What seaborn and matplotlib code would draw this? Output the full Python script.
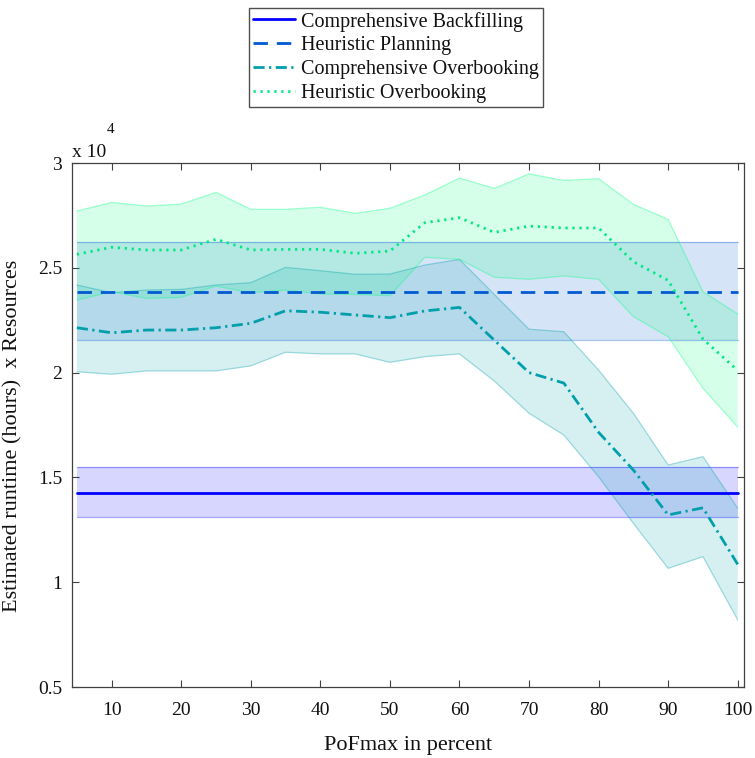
import numpy as np
import pandas as pd
import matplotlib
matplotlib.use("Agg")
import matplotlib.pyplot as plt
from matplotlib.ticker import FuncFormatter, MultipleLocator
import seaborn as sns

# PoFmax levels (percent)
pofmax = [5, 10, 15, 20, 25, 30, 35, 40, 45, 50,
          55, 60, 65, 70, 75, 80, 85, 90, 95, 100]

# Comprehensive Backfilling (independent of PoFmax): mean and spread
backfill_mean = 14240
backfill_lo = 13110
backfill_hi = 15500

# Heuristic Planning (independent of PoFmax): mean and spread
planning_mean = 23850
planning_lo = 21550
planning_hi = 26220

# Comprehensive Overbooking
co_mean = [22140, 21900, 22030, 22030, 22140, 22350, 22950, 22880, 22750, 22620,
           22940, 23110, 21550, 20000, 19500, 17150, 15350, 13210, 13550, 10850]
co_lo = [20040, 19920, 20080, 20080, 20080, 20320, 20970, 20890, 20890, 20490,
         20760, 20890, 19600, 18060, 17020, 15030, 12810, 10660, 11220, 8200]
co_hi = [24180, 23810, 23940, 23970, 24180, 24290, 25020, 24860, 24690, 24700,
         25130, 25400, 23730, 22070, 21950, 20120, 18060, 15590, 15990, 13530]

# Heuristic Overbooking
ho_mean = [25640, 25980, 25850, 25850, 26360, 25850, 25880, 25880, 25690, 25800,
           27150, 27390, 26690, 26990, 26900, 26900, 25290, 24400, 21600, 20100]
ho_lo = [23460, 23860, 23540, 23590, 24130, 23810, 23940, 23750, 23730, 23670,
         25500, 25400, 24550, 24450, 24610, 24450, 22670, 21710, 19250, 17400]
ho_hi = [27710, 28120, 27950, 28040, 28600, 27790, 27790, 27890, 27600, 27840,
         28470, 29280, 28790, 29480, 29170, 29250, 28030, 27310, 23860, 22800]

labels = ["Comprehensive Backfilling", "Heuristic Planning",
          "Comprehensive Overbooking", "Heuristic Overbooking"]
colors = ["#0000FF", "#005AD2", "#00A0AA", "#00E882"]
fills = ["#0000FF", "#005AD2", "#00A0AA", "#00FF80"]

n = len(pofmax)
df = pd.DataFrame({
    "pofmax": pofmax,
    "backfill": [backfill_mean] * n,
    "backfill_lo": [backfill_lo] * n,
    "backfill_hi": [backfill_hi] * n,
    "planning": [planning_mean] * n,
    "planning_lo": [planning_lo] * n,
    "planning_hi": [planning_hi] * n,
    "co": co_mean, "co_lo": co_lo, "co_hi": co_hi,
    "ho": ho_mean, "ho_lo": ho_lo, "ho_hi": ho_hi,
})

sns.set_theme(style="white")
plt.rcParams["font.family"] = ["Liberation Serif", "DejaVu Serif"]

fig = plt.figure(figsize=(7.55, 7.58), dpi=100)
ax = fig.add_axes([72 / 755, 71 / 758, 672 / 755, 524 / 758])

series = [
    ("backfill", None, 2.0),
    ("planning", (5.2, 3.2), 2.0),
    ("co", (4.0, 1.6, 0.8, 1.6), 2.0),
    ("ho", (0.8, 1.7), 2.0),
]

handles = []
for (key, dash, lw), lab, col, fcol in zip(series, labels, colors, fills):
    ax.fill_between(df["pofmax"], df[key + "_lo"], df[key + "_hi"],
                    facecolor=fcol, alpha=0.16, edgecolor="none", zorder=1)
    ax.plot(df["pofmax"], df[key + "_lo"], color=fcol, alpha=0.35, lw=0.9, zorder=1.5)
    ax.plot(df["pofmax"], df[key + "_hi"], color=fcol, alpha=0.35, lw=0.9, zorder=1.5)
    sns.lineplot(data=df, x="pofmax", y=key, ax=ax, color=col, linewidth=lw,
                 legend=False, zorder=3)
    line = ax.lines[-1]
    if dash is not None:
        line.set_dashes(dash)
    line.set_label(lab)
    handles.append(line)

ax.set_xlim(4.3, 100.9)
ax.set_ylim(5000, 30000)
ax.xaxis.set_major_locator(MultipleLocator(10))
ax.yaxis.set_major_locator(MultipleLocator(5000))
ax.yaxis.set_major_formatter(FuncFormatter(lambda v, p: f"{v / 1e4:g}"))

for s in ax.spines.values():
    s.set_visible(True)
    s.set_color("#404040")
    s.set_linewidth(0.9)
ax.tick_params(direction="in", length=5, width=0.8, color="#404040",
               top=True, right=True, bottom=True, left=True,
               labelsize=14, labelcolor="#111111")
ax.tick_params(axis="x", pad=11)
ax.tick_params(axis="y", pad=7)

ax.set_xlabel("PoFmax in percent", fontsize=16, color="#111111", labelpad=12)
ax.set_ylabel("Estimated runtime (hours)  x Resources", fontsize=16,
              color="#111111")
ax.yaxis.set_label_coords(-0.074, 0.48)

fig.text(72 / 755, 1 - 157 / 758, "x 10", fontsize=14, color="#111111",
         ha="left", va="baseline")
fig.text(107 / 755, 1 - 133 / 758, "4", fontsize=11, color="#111111",
         ha="left", va="baseline")

leg = fig.legend(handles=handles, labels=labels, loc="upper center",
                 bbox_to_anchor=(396 / 755, 1 - 8 / 758), ncol=1,
                 fontsize=14.5, frameon=True, fancybox=False, shadow=False,
                 handlelength=2.1, handletextpad=0.3, labelspacing=0.24,
                 borderpad=0.18, borderaxespad=0)
leg.get_frame().set_edgecolor("#202020")
leg.get_frame().set_linewidth(1.0)
for t in leg.get_texts():
    t.set_color("#111111")

fig.savefig("out.png", dpi=100, facecolor="white")
